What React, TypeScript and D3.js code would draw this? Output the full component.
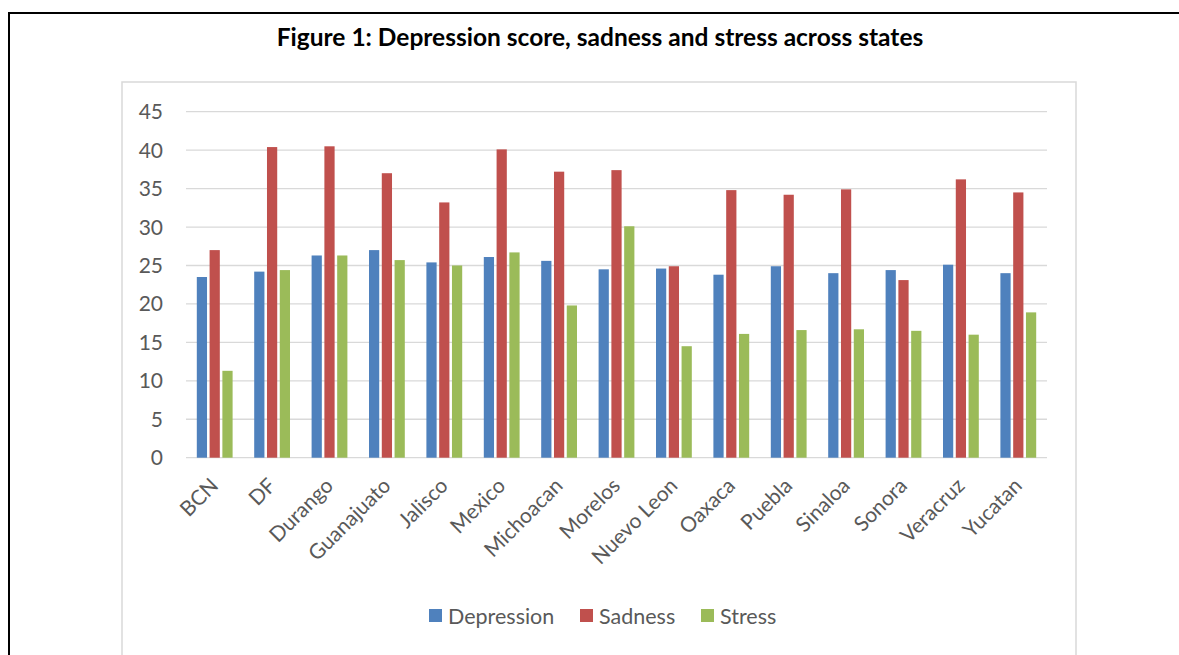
import * as d3 from 'd3';

const states = [
  'BCN', 'DF', 'Durango', 'Guanajuato', 'Jalisco', 'Mexico', 'Michoacan', 'Morelos',
  'Nuevo Leon', 'Oaxaca', 'Puebla', 'Sinaloa', 'Sonora', 'Veracruz', 'Yucatan',
];
const depression = [23.5, 24.2, 26.3, 27.0, 25.4, 26.1, 25.6, 24.5, 24.6, 23.8, 24.9, 24.0, 24.4, 25.1, 24.0];
const sadness = [27.0, 40.4, 40.5, 37.0, 33.2, 40.1, 37.2, 37.4, 24.9, 34.8, 34.2, 34.9, 23.1, 36.2, 34.5];
const stress = [11.3, 24.4, 26.3, 25.7, 25.0, 26.7, 19.8, 30.1, 14.5, 16.1, 16.6, 16.7, 16.5, 16.0, 18.9];
const seriesNames = ['Depression', 'Sadness', 'Stress'];
const seriesValues = [depression, sadness, stress];
const seriesColors = ['#4F81BD', '#C0504D', '#9BBB59'];
const yTicks = [0, 5, 10, 15, 20, 25, 30, 35, 40, 45];

const W = 1179;
const H = 655;
const FONT = 'Lato, "Open Sans", sans-serif';
const TEXT = '#595959';

export default function App() {
  const x = d3.scaleBand<string>().domain(states).range([186, 1047]).paddingInner(0).paddingOuter(0);
  const xSub = d3.scaleBand<string>().domain(seriesNames).range([-17.9, 17.9]).paddingInner(0.2);
  const y = d3.scaleLinear().domain([0, 45]).range([457.7, 111.7]);

  const legendX = [429, 580, 701];

  return (
    <svg
      width={W}
      height={H}
      viewBox={`0 0 ${W} ${H}`}
      style={{ position: 'absolute', left: 0, top: 0, background: '#fff' }}
    >
      {/* outer frame */}
      <line x1={9} x2={W} y1={13} y2={13} stroke="#000" strokeWidth={2} />
      <line x1={9} x2={9} y1={12} y2={H} stroke="#000" strokeWidth={2} />

      <text
        x={600}
        y={46}
        textAnchor="middle"
        fontFamily={FONT}
        fontWeight="bold"
        fontSize={24.5}
        fill="#000"
      >
        Figure 1: Depression score, sadness and stress across states
      </text>

      {/* chart area */}
      <rect x={122} y={82} width={954} height={580} fill="#fff" stroke="#D9D9D9" strokeWidth={1.5} />

      {/* gridlines and y labels */}
      {yTicks.map((t) => (
        <g key={t}>
          <line x1={186} x2={1047} y1={y(t)} y2={y(t)} stroke="#D9D9D9" strokeWidth={1.3} />
          <text
            x={163}
            y={y(t)}
            dy="0.36em"
            textAnchor="end"
            fontFamily={FONT}
            fontSize={21}
            fill={TEXT}
          >
            {t}
          </text>
        </g>
      ))}

      {/* bars */}
      {seriesNames.map((name, si) => (
        <g key={name} fill={seriesColors[si]}>
          {states.map((s, i) => {
            const cx = (x(s) ?? 0) + x.bandwidth() / 2;
            const v = seriesValues[si][i];
            return (
              <rect
                key={s}
                x={cx + (xSub(name) ?? 0)}
                y={y(v)}
                width={xSub.bandwidth()}
                height={y(0) - y(v)}
              />
            );
          })}
        </g>
      ))}

      {/* x labels */}
      {states.map((s) => {
        const cx = (x(s) ?? 0) + x.bandwidth() / 2;
        return (
          <text
            key={s}
            transform={`translate(${cx + 5},${487}) rotate(-45)`}
            textAnchor="end"
            fontFamily={FONT}
            fontSize={21}
            fill={TEXT}
          >
            {s}
          </text>
        );
      })}

      {/* legend */}
      {seriesNames.map((name, i) => (
        <g key={name} transform={`translate(${legendX[i]},609)`}>
          <rect width={13} height={13} fill={seriesColors[i]} />
          <text x={19} y={7} dy="0.36em" fontFamily={FONT} fontSize={21.5} fill={TEXT}>
            {name}
          </text>
        </g>
      ))}
    </svg>
  );
}
